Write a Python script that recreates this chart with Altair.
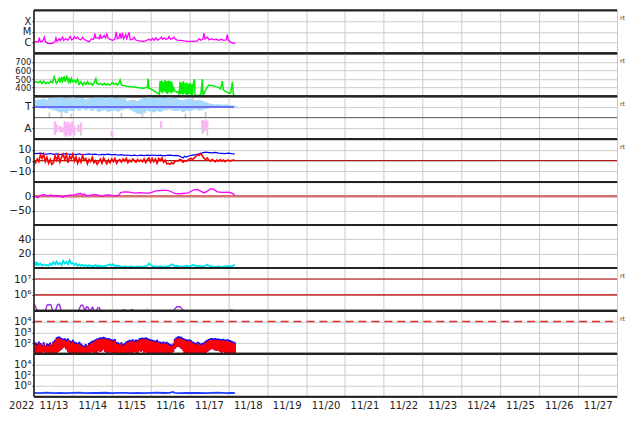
import altair as alt
import pandas as pd

W, H = 584, 43
FONT = "DejaVu Sans"

DAY_LABELS = ['2022', '11/13', '11/14', '11/15', '11/16', '11/17', '11/18', '11/19',
              '11/20', '11/21', '11/22', '11/23', '11/24', '11/25', '11/26', '11/27']
DAY_TICKS = [0, 24, 48, 72, 96, 120, 144, 168, 192, 216, 240, 264, 288, 312, 336, 360]

# ---------------- panel 1: X-ray flux ----------------
xr_h = [0, 1.2, 2.7, 3.3, 3.9, 5.3, 6.4, 7.0, 8.4, 10.5, 12.1, 12.9, 13.6, 14.2, 15.6, 16.2,
        17.7, 18.3, 19.7, 20.8, 22.4, 23.2, 24.5, 24.9, 25.9, 26.9, 27.9, 29.0, 30.0, 31.0,
        32.7, 34.1, 35.6, 36.8, 37.6, 38.2, 39.3, 40.3, 40.9, 41.5, 42.5, 43.4, 44.2, 45.0,
        45.8, 47.1, 48.5, 49.9, 50.8, 51.4, 52.4, 53.2, 53.8, 54.7, 55.3, 56.7, 57.3, 58.8,
        59.4, 60.8, 61.9, 62.9, 64.9, 67.0, 69.0, 71.1, 72.1, 73.2, 74.2, 75.2, 76.2, 77.7,
        78.7, 79.5, 80.4, 81.6, 82.8, 83.4, 84.3, 85.5, 86.5, 87.3, 88.6, 90.6, 92.7, 94.7,
        96.8, 98.8, 100.9, 101.9, 103.0, 104.2, 105.0, 105.6, 107.1, 108.1, 109.5, 111.2,
        112.6, 114.3, 115.7, 117.3, 118.6, 119.4, 120.0, 121.5, 123.1, 124.3]
xr_f = [1.15e-6, 1.2e-6, 1.15e-6, 2.8e-6, 1.2e-6, 1.3e-6, 3.2e-6, 1.3e-6, 8.5e-7, 8.1e-7,
        9.3e-7, 1.15e-6, 2.8e-6, 1.3e-6, 2.3e-6, 1.5e-6, 3.2e-6, 1.6e-6, 2.3e-6, 1.6e-6,
        3.7e-6, 1.8e-6, 2.2e-6, 3.5e-6, 2.3e-6, 3.2e-6, 2.0e-6, 1.8e-6, 3.2e-6, 2.0e-6,
        1.4e-6, 1.2e-6, 2.3e-6, 2.0e-6, 7.0e-6, 2.5e-6, 2.8e-6, 2.3e-6, 5.6e-6, 2.5e-6,
        3.0e-6, 4.5e-6, 2.6e-6, 6.4e-6, 2.5e-6, 2.0e-6, 1.6e-6, 2.0e-6, 1.0e-5, 2.3e-6,
        2.5e-6, 7.3e-6, 2.3e-6, 7.9e-6, 2.2e-6, 5.6e-6, 2.3e-6, 9.0e-6, 1.8e-6, 2.0e-6,
        3.2e-6, 1.7e-6, 1.4e-6, 1.3e-6, 1.4e-6, 2.0e-6, 1.6e-6, 2.5e-6, 1.6e-6, 2.8e-6,
        1.7e-6, 2.2e-6, 3.2e-6, 2.0e-6, 2.6e-6, 2.0e-6, 2.3e-6, 3.7e-6, 2.0e-6, 2.3e-6,
        3.2e-6, 2.0e-6, 1.7e-6, 1.6e-6, 1.4e-6, 1.3e-6, 1.3e-6, 1.3e-6, 1.4e-6, 2.3e-6,
        1.6e-6, 2.0e-6, 7.3e-6, 2.2e-6, 3.2e-6, 1.8e-6, 2.3e-6, 1.8e-6, 2.0e-6, 1.6e-6,
        2.0e-6, 1.6e-6, 1.8e-6, 5.6e-6, 1.6e-6, 1.1e-6, 8.5e-7, 9.0e-7]

# ---------------- panel 2: solar wind speed ----------------
sw_h = [0, 1.2, 2.7, 3.9, 4.9, 6.0, 7.4, 8.4, 9.5, 10.5, 11.5, 12.5, 13.2, 13.8, 14.6, 15.6,
        16.2, 17.1, 17.7, 18.7, 19.3, 20.3, 21.2, 21.8, 22.4, 23.2, 23.8, 24.9, 25.9, 26.9,
        27.9, 29.0, 30.0, 31.0, 32.1, 33.1, 34.1, 35.1, 36.2, 37.2, 38.2, 38.8, 40.3, 41.3,
        42.3, 43.4, 44.4, 45.4, 46.4, 47.5, 48.5, 49.5, 50.6, 51.6, 52.6, 53.2, 54.0, 55.7,
        57.7, 59.8, 61.9, 63.9, 66.0, 68.0, 69.0, 70.1, 70.5, 70.9, 72.1, 73.2, 74.2, 75.2,
        76.2, 77.3, 77.9, 78.5, 78.9, 79.5, 79.9, 80.6, 81.0, 81.6, 82.0, 82.6, 83.0, 83.6,
        84.1, 84.7, 85.1, 85.7, 86.1, 86.9, 88.0, 89.0, 89.8, 90.2, 90.8, 91.2, 91.9, 92.3,
        92.9, 93.3, 93.9, 94.3, 94.9, 95.4, 96.0, 96.4, 97.0, 97.4, 98.0, 98.4, 99.1, 99.5,
        100.9, 103.0, 104.0, 104.4, 105.4, 106.7, 108.1, 110.1, 112.2, 114.3, 115.3, 116.3,
        116.9, 118.4, 120.4, 121.5, 122.5, 123.1, 123.9]
sw_v = [460, 468, 457, 475, 449, 475, 445, 460, 449, 475, 457, 525, 487, 449, 468, 506,
        460, 525, 475, 532, 468, 525, 468, 513, 449, 506, 468, 487, 460, 498,
        438, 468, 430, 460, 438, 468, 438, 449, 430, 460, 506, 449, 438, 449,
        430, 449, 430, 445, 430, 438, 460, 438, 449, 430, 460, 487, 430, 423,
        415, 411, 408, 400, 396, 392, 400, 404, 506, 392, 385, 374, 362, 347,
        336, 325, 475, 347, 483, 332, 468, 355, 487, 336, 472, 325, 483, 347,
        475, 332, 468, 343, 400, 362, 347, 355, 317, 468, 325, 460, 317, 475,
        332, 449, 317, 460, 309, 445, 325, 457, 313, 438, 317, 445, 498, 309,
        309, 313, 498, 309, 347, 400, 430, 423, 411, 400, 385, 475,
        374, 355, 336, 340, 468, 325, 317]

# ---------------- panel 3: sector (T / A) ----------------
lb_h = [0, 2, 4, 6, 8, 10, 12, 14, 16, 18, 20, 22, 24, 26, 28, 30, 32, 34, 36, 38, 40, 42,
        44, 46, 48, 50, 52, 54, 56, 58, 60, 62, 64, 66, 68, 70, 72, 74, 76, 78, 80, 82, 84,
        86, 88, 90, 92, 94, 96, 98, 100, 102, 104, 106, 108, 110, 112, 114, 116, 118, 120,
        122, 124]
lb_lo = [265, 262, 258, 255, 260, 250, 245, 238, 225, 230, 220, 240, 235, 250, 240, 255,
         245, 250, 235, 250, 230, 240, 245, 230, 235, 240, 232, 245, 250, 255, 245, 230,
         215, 210, 220, 240, 230, 225, 235, 230, 240, 245, 250, 240, 235, 245, 230, 240,
         235, 245, 250, 240, 245, 255, 258, 260, 262, 260, 262, 260, 262, 263, 265]
lb_hi = [305, 330, 335, 340, 330, 345, 340, 350, 352, 350, 345, 350, 352, 345, 340, 345,
         335, 340, 345, 350, 352, 348, 340, 350, 352, 345, 340, 350, 335, 320, 330, 325,
         320, 335, 345, 350, 352, 345, 340, 350, 345, 350, 352, 345, 340, 330, 325, 335,
         340, 330, 325, 330, 320, 310, 300, 295, 290, 292, 288, 290, 288, 285, 280]
gr_h = [9.5, 12, 17, 20, 23, 25, 29, 33, 48.5, 52, 54, 56, 62, 67, 70, 85, 93.5, 98, 104,
        106, 107]
gr_lo = [180, 300, 175, 310, 170, 320, 30, 290, 15, 320, 175, 325, 300, 185, 330, 310, 170,
         320, 40, 180, 30]
gr_hi = [225, 340, 230, 345, 215, 350, 110, 330, 55, 350, 220, 352, 330, 230, 355, 340, 215,
         345, 120, 230, 100]
pk_h = [13, 14, 16, 17.5, 19, 20, 21, 22, 23, 24, 25, 27.5, 29, 48, 78.5, 104, 105, 106, 107]
pk_lo = [35, 60, 60, 55, 30, 20, 40, 25, 35, 50, 30, 60, 70, 25, 90, 90, 60, 75, 100]
pk_hi = [150, 120, 110, 100, 150, 130, 145, 120, 140, 150, 110, 120, 140, 70, 150, 160, 150,
         165, 150]
t_line_h = [0, 123.5]
t_line_v = [270, 270]

# ---------------- panel 4: IMF Bt / Bz ----------------
bt_h = [0, 2, 4, 6, 8, 10, 12, 14, 16, 18, 20, 22, 24, 26, 28, 30, 32, 34, 36, 38, 40, 42,
        44, 46, 48, 50, 52, 54, 56, 58, 60, 62, 64, 66, 68, 70, 72, 74, 76, 78, 80, 82, 84,
        86, 88, 90, 92, 93, 94, 96, 98, 100, 102, 104, 106, 108, 110, 112, 114, 116, 118,
        120, 122, 124]
bt_v = [6.8, 6.5, 7.0, 6.3, 6.0, 6.6, 5.8, 6.2, 5.5, 6.0, 6.4, 5.7, 6.1, 5.6, 6.2, 5.4, 5.9,
        6.3, 5.7, 6.0, 5.2, 5.8, 5.5, 6.0, 5.3, 5.7, 5.0, 5.5, 4.8, 5.2, 4.6, 5.0, 4.5, 5.1,
        4.7, 5.0, 4.8, 5.2, 4.6, 5.0, 4.4, 4.8, 5.1, 4.6, 4.9, 4.2, 2.5, 4.0, 3.2, 4.5, 5.0,
        5.5, 6.2, 7.2, 7.8, 7.5, 7.2, 7.6, 7.0, 6.8, 6.5, 6.9, 6.4, 6.2]
bz_h = list(range(0, 125))
bz_v = [0.5, -2.0, 1.5, -1.0, 5.5, 2.0, 6.0, -1.0, 3.0, -2.5, 1.0, -3.5, -2.0, 4.5, 0.5,
        5.0, -1.5, 3.0, 6.0, 1.0, 5.5, -2.0, 4.0, 1.5, 6.0, -0.5, 3.5, -2.5, 2.0, -1.5,
        4.5, 0.5, 2.0, -3.0, 1.0, -1.0, 3.0, -2.0, 0.0, -3.5, -1.0, 1.5, -2.5, 2.5, -0.5,
        -3.0, 0.5, -2.0, 1.5, -1.0, 2.0, -2.5, 0.0, 1.0, -1.5, 1.5, -0.5, 2.0, -2.0, 0.5,
        -1.0, 1.5, 0.0, -1.5, 1.0, -0.5, 0.5, -1.0, 1.5, -2.0, 1.0, 2.5, -1.5, 2.0, -1.0,
        1.5, -2.5, 2.0, 0.0, 2.5, -1.5, 0.5, -3.0, -2.5, -3.5, -2.0, -3.0, -1.0, 0.0, -0.5,
        1.0, 0.5, -1.5, 0.0, -0.5, 0.5, 1.5, 2.0, 1.0, 2.5, 4.0, 5.5, 5.0, 6.5, 4.5,
        2.0, 1.0, 2.5, 0.5, -0.5, 1.0, 0.0, -1.0, 0.5, -0.5, 1.0, -0.5, 0.5, -1.0, 0.0,
        0.5, -0.5, 0.0, 0.5, 0.0]

# ---------------- panel 5: Dst ----------------
dst_h = [0, 1.2, 2.3, 3.3, 4.3, 5.3, 6.4, 7.4, 8.4, 9.5, 10.5, 11.5, 12.5, 13.6, 14.6, 16.6,
         17.7, 18.7, 20.8, 22.8, 24.9, 26.9, 29.0, 30.0, 31.0, 32.1, 33.1, 35.1, 37.2, 39.3,
         41.3, 42.3, 43.4, 45.4, 47.5, 49.5, 51.6, 52.6, 53.6, 54.7, 56.7, 58.8, 60.8, 62.9,
         65.0, 67.0, 69.0, 71.1, 73.2, 75.2, 77.3, 79.3, 82.4, 84.5, 86.5, 88.6, 91.7, 94.7,
         96.8, 98.8, 100.9, 103.0, 105.0, 107.1, 109.1, 110.8, 113.2, 116.3, 119.4, 121.5,
         123.9]
dst_v = [2, -2, -5, 0, 3, 6, 5, 4, 2, 3, 5, 2, 3, 1, 2, 0, -3, 0, 3, 4, 5, 9, 10, 5, 9, 4,
         2, 4, 6, 5, 1, 0, 3, 5, 4, 2, 3, 6, 13, 15, 16, 15, 13, 11, 13, 12, 11, 11, 15, 19,
         20, 21, 21, 17, 11, 9, 10, 11, 17, 23, 24, 18, 12, 18, 27, 25, 16, 14, 15, 13, 5]
dst_ref = [0]

# ---------------- panel 6: cyan index ----------------
cy_h = [0, 0.5, 1, 1.5, 2, 3, 4, 5, 6, 7, 8, 9, 10, 11, 12, 13, 14, 15, 16, 17, 18, 19, 20,
        21, 22, 23, 24, 25, 26, 27, 28, 29, 30, 31, 32, 33, 34, 35, 36, 37, 38, 39, 40, 41,
        42, 43, 44, 46, 47, 48, 49, 50, 52, 54, 56, 58, 60, 62, 64, 66, 68, 70, 71, 72, 73,
        74, 76, 78, 80, 82, 84, 85, 86, 87, 88, 90, 92, 94, 96, 98, 100, 102, 104, 106, 107,
        108, 110, 112, 114, 116, 118, 120, 122, 123, 124]
cy_v = [10, 4, 8, 3, 7, 4, 6, 3, 5, 3.5, 4, 3, 6, 4, 8, 5, 9, 5, 7, 4, 10, 6, 8, 5, 11, 6,
        7, 4, 6, 3, 5, 3, 4.5, 2.5, 4, 2, 4, 2.5, 3, 2, 4, 2, 3.5, 2, 3, 1.5, 3, 4, 5, 3, 5,
        2.5, 3, 1.5, 2, 1.5, 2, 1, 2, 1.5, 2, 3, 6, 4, 3, 2, 1.5, 2.5, 1.5, 2, 3, 5, 4, 2, 3,
        2, 1.5, 3, 2, 4, 3, 2.5, 2, 3, 4.5, 3, 2, 1.5, 2, 1.5, 2, 2.5, 2, 3, 5]

# ---------------- panel 7: electron flux ----------------
el_h = [0, 0.6, 1.4, 2.3, 3.1, 6.4, 7.2, 8.0, 8.8, 10.5, 11.1, 11.7, 12.9, 13.8, 14.6, 15.8,
        16.6, 17.3, 26.9, 27.9, 29.0, 30.0, 31.0, 31.6, 32.5, 33.5, 34.3, 35.1, 36.2, 37.2,
        38.2, 39.3, 40.3, 41.3, 42.3, 54.0, 54.9, 56.1, 56.9, 59.4, 60.2, 61.4, 62.3, 69.0,
        70.1, 70.9, 85.5, 86.6, 88.2, 90.2, 91.9, 93.1, 120.4, 121.5, 122.5, 123.6]
el_v = [2.8e5, 2.2e5, 1.4e5, 9e4, 6e4, 6e4, 1.1e5, 2.2e5, 2.5e5, 2.4e5, 1.5e5, 8e4, 7e4,
        1.5e5, 2.5e5, 2.5e5, 1.2e5, 7e4, 7e4, 1.3e5, 2.2e5, 2.3e5, 1.4e5, 1.0e5, 1.8e5,
        1.6e5, 9e4, 1.2e5, 1.7e5, 1.0e5, 8e4, 1.5e5, 1.6e5, 9e4, 6e4, 6e4, 1.15e5, 1.15e5,
        6e4, 6e4, 1.2e5, 1.1e5, 6e4, 6e4, 1.05e5, 6e4, 6e4, 1.2e5, 1.8e5, 1.8e5, 1.2e5, 6e4,
        6e4, 1.1e5, 1.1e5, 6e4]
el_ref = [1e6, 1e7]

# ---------------- panel 8: proton flux (hourly ranges) ----------------
pf_h = list(range(0, 125))
pb_hi = [150, 110, 90, 140, 100, 70, 120, 60, 90, 80, 110, 75, 150, 200, 350, 400, 380,
         300, 250, 280, 220, 260, 180, 150, 200, 140, 120, 100, 130, 90, 70, 55, 80, 60,
         100, 130, 160, 180, 220, 260, 300, 350, 320, 380, 330, 280, 300, 250, 220, 200,
         240, 130, 110, 90, 120, 80, 100, 140, 160, 200, 180, 220, 170, 210, 190, 260, 300,
         330, 280, 350, 300, 250, 220, 200, 180, 160, 200, 150, 130, 120, 140, 110, 130,
         100, 80, 70, 90, 250, 350, 420, 400, 380, 300, 250, 220, 200, 230, 180, 140, 120,
         100, 130, 110, 90, 100, 120, 160, 200, 240, 280, 300, 260, 290, 250, 270, 240,
         220, 250, 200, 230, 210, 190, 160, 140, 120]
pr_hi = [110, 70, 60, 100, 70, 50, 90, 45, 60, 55, 80, 50, 100, 140, 250, 300, 260, 220,
         180, 200, 150, 190, 130, 100, 140, 90, 80, 70, 90, 60, 50, 40, 55, 45, 70, 90, 110,
         130, 160, 190, 220, 250, 230, 270, 240, 200, 220, 180, 160, 140, 170, 90, 80, 65,
         85, 55, 70, 100, 110, 140, 130, 160, 120, 150, 140, 190, 220, 240, 200, 250, 210,
         180, 160, 140, 130, 110, 140, 110, 90, 85, 100, 80, 90, 70, 55, 50, 65, 180, 250,
         300, 290, 270, 210, 180, 160, 140, 170, 130, 100, 85, 70, 95, 80, 65, 70, 85, 115,
         140, 170, 200, 210, 190, 200, 180, 190, 170, 160, 180, 140, 160, 150, 130, 110,
         100, 85]
pf_lo = [8, 8, 12, 8, 8, 8, 15, 8, 8, 8, 8, 8, 8, 12, 8, 15, 20, 25, 35, 40, 25, 15, 8, 8,
         12, 8, 8, 8, 8, 8, 8, 8, 8, 12, 8, 8, 15, 8, 8, 12, 18, 15, 20, 25, 15, 12, 8, 15,
         8, 8, 8, 8, 8, 8, 8, 8, 8, 12, 8, 8, 12, 8, 15, 8, 12, 18, 15, 20, 12, 15, 8, 12, 8,
         8, 8, 8, 8, 8, 12, 8, 8, 8, 8, 8, 8, 8, 15, 30, 40, 45, 40, 30, 20, 12, 8, 8, 8, 8,
         8, 8, 8, 8, 8, 8, 8, 8, 12, 15, 20, 25, 30, 25, 20, 18, 20, 15, 12, 15, 8, 12, 8, 8,
         8, 8, 8]
pf_ref = [1e4]

# ---------------- panel 9: low flux ----------------
lo_h = [0, 4, 8, 12, 16, 20, 24, 28, 32, 36, 40, 44, 48, 52, 56, 60, 64, 68, 72, 76, 80, 84,
        85.5, 87, 90, 94, 98, 102, 106, 110, 114, 118, 122, 124]
lo_v = [0.05, 0.045, 0.055, 0.048, 0.052, 0.046, 0.05, 0.055, 0.047, 0.051, 0.049, 0.054,
        0.047, 0.05, 0.053, 0.048, 0.052, 0.046, 0.05, 0.054, 0.049, 0.052, 0.075, 0.05,
        0.047, 0.052, 0.049, 0.053, 0.048, 0.05, 0.055, 0.047, 0.05, 0.049]

RT_PANELS = [0, 1, 2, 3, 6, 7]

# ---------------- helpers ----------------
XS = alt.Scale(domain=[0, 360], nice=False)
label_js = "[" + ",".join("'%s'" % s for s in DAY_LABELS) + "][round(datum.value/24)]"


def xaxis(bottom):
    if bottom:
        return alt.Axis(values=DAY_TICKS, grid=True, ticks=False, domain=False,
                        labelExpr=label_js, labelAlign='right',
                        labelOffset={"condition": {"test": "datum.value == 0", "value": 0},
                                     "value": -5},
                        labelPadding=4, labelFlush=False, labelOverlap=False,
                        labelFontSize=10, title=None)
    return alt.Axis(values=DAY_TICKS, grid=True, labels=False, ticks=False, domain=False,
                    title=None)


SUP = "'10' + ['\u2070','\u00b9','\u00b2','\u00b3','\u2074','\u2075','\u2076','\u2077'][round(log(datum.value)/LN10)]"


def yax(vals, expr=None, fs=10.5):
    kw = dict(values=vals, grid=True, domain=False, tickSize=2, labelPadding=1, title=None,
              labelOverlap=False, labelFontSize=fs)
    if expr:
        kw['labelExpr'] = expr
    return alt.Axis(**kw)


YCFG = [
    (alt.Scale(type='log', domain=[1e-7, 1e-3], nice=False),
     yax([1e-6, 1e-5, 1e-4], "datum.value < 5e-6 ? 'C' : datum.value < 5e-5 ? 'M' : 'X'", 10)),
    (alt.Scale(domain=[300, 800], nice=False), yax([400, 500, 600, 700], None, 8.5)),
    (alt.Scale(domain=[0, 360], nice=False), yax([90, 270], "datum.value > 180 ? 'T' : 'A'")),
    (alt.Scale(domain=[-20, 20], nice=False), yax([-10, 0, 10])),
    (alt.Scale(domain=[-100, 50], nice=False), yax([-50, 0])),
    (alt.Scale(domain=[0, 60], nice=False), yax([20, 40])),
    (alt.Scale(type='log', domain=[1e5, 5e7], nice=False), yax([1e6, 1e7], SUP)),
    (alt.Scale(type='log', domain=[10, 1e5], nice=False), yax([100, 1000, 10000], SUP)),
    (alt.Scale(type='log', domain=[0.01, 1e6], nice=False), yax([1, 100, 10000], SUP)),
]

ONE = alt.Data(values=[{"a": 1}])


def make_panel(i, layers_spec):
    bottom = (i == 8)
    sc, ax = YCFG[i]

    def X(f):
        return alt.X(f + ':Q', scale=XS, axis=xaxis(bottom))

    def Y(f):
        return alt.Y(f + ':Q', scale=sc, axis=ax)

    layers = []
    for spec in layers_spec:
        layers.append(spec(X, Y))
    layers.append(alt.Chart(ONE).mark_rule(color='#222', strokeWidth=2).encode(
        x=alt.value(0), x2=alt.value(W), y=alt.value(0)))
    layers.append(alt.Chart(ONE).mark_rule(color='#222', strokeWidth=2).encode(
        x=alt.value(0), x2=alt.value(W), y=alt.value(H)))
    layers.append(alt.Chart(ONE).mark_rule(color='#222', strokeWidth=1.6).encode(
        x=alt.value(0), y=alt.value(0), y2=alt.value(H)))
    if i in RT_PANELS:
        layers.append(alt.Chart(ONE).mark_text(text='rt', align='left', baseline='middle',
                                               fontSize=6, font=FONT, color='#333').encode(
            x=alt.value(W + 3), y=alt.value(8)))
    return alt.layer(*layers).properties(width=W, height=H)


def line(df, color, sw, xf='h', yf='v', **kw):
    return lambda X, Y: alt.Chart(df).mark_line(color=color, strokeWidth=sw, clip=True,
                                                interpolate='linear', **kw).encode(
        x=X(xf), y=Y(yf))


def bars(df, color, sw):
    return lambda X, Y: alt.Chart(df).mark_rule(color=color, strokeWidth=sw, clip=True).encode(
        x=X('h'), y=Y('lo'), y2=alt.Y2('hi'))


def hline(vals, color, sw, dash=None):
    df = pd.DataFrame({'v': vals})
    kw = dict(color=color, strokeWidth=sw, clip=True)
    if dash:
        kw['strokeDash'] = dash
    return lambda X, Y: alt.Chart(df).mark_rule(**kw).encode(
        y=Y('v'), x=alt.value(0), x2=alt.value(W))


panels = []
panels.append(make_panel(0, [line(pd.DataFrame({'h': xr_h, 'v': xr_f}), '#ff00ff', 1.3)]))
panels.append(make_panel(1, [line(pd.DataFrame({'h': sw_h, 'v': sw_v}), '#00ee00', 1.5)]))
panels.append(make_panel(2, [
    bars(pd.DataFrame({'h': lb_h, 'lo': lb_lo, 'hi': lb_hi}), '#a6d9ff', 4.2),
    bars(pd.DataFrame({'h': gr_h, 'lo': gr_lo, 'hi': gr_hi}), '#cfcfcf', 1.8),
    bars(pd.DataFrame({'h': pk_h, 'lo': pk_lo, 'hi': pk_hi}), '#f8b6f4', 2.4),
    hline([180], '#555555', 1),
    line(pd.DataFrame({'h': t_line_h, 'v': t_line_v}), '#6f6ff5', 2),
]))
panels.append(make_panel(3, [
    hline([0], '#b00000', 1),
    line(pd.DataFrame({'h': bt_h, 'v': bt_v}), '#0000ff', 1.2),
    line(pd.DataFrame({'h': bz_h, 'v': bz_v}), '#ff0000', 1.6),
]))
panels.append(make_panel(4, [
    hline(dst_ref, '#d27272', 2.5),
    line(pd.DataFrame({'h': dst_h, 'v': dst_v}), '#ff00ff', 1.3),
]))
panels.append(make_panel(5, [line(pd.DataFrame({'h': cy_h, 'v': cy_v}), '#00e5ee', 1.8)]))
panels.append(make_panel(6, [
    hline(el_ref, '#c00000', 1.2),
    line(pd.DataFrame({'h': el_h, 'v': el_v}), '#a030e0', 1.4),
]))
panels.append(make_panel(7, [
    bars(pd.DataFrame({'h': pf_h, 'lo': pf_lo, 'hi': pb_hi}), '#0000ff', 2),
    bars(pd.DataFrame({'h': pf_h, 'lo': pf_lo, 'hi': pr_hi}), '#ff0000', 2),
    hline(pf_ref, '#e03030', 1.5, [8, 5]),
]))
panels.append(make_panel(8, [line(pd.DataFrame({'h': lo_h, 'v': lo_v}), '#1f3fff', 1.8)]))

chart = alt.vconcat(*panels, spacing=0, bounds='flush').properties(
    padding={"left": 0, "top": 0, "right": 0, "bottom": 0}
).configure_view(stroke='#222', strokeWidth=1).configure_axis(
    labelFont=FONT, labelFontSize=9.5, labelColor='#222', gridColor='#cccccc', gridWidth=1,
    tickColor='#222'
)

chart.save("out.html", embed_options={"renderer": "svg", "actions": False})
